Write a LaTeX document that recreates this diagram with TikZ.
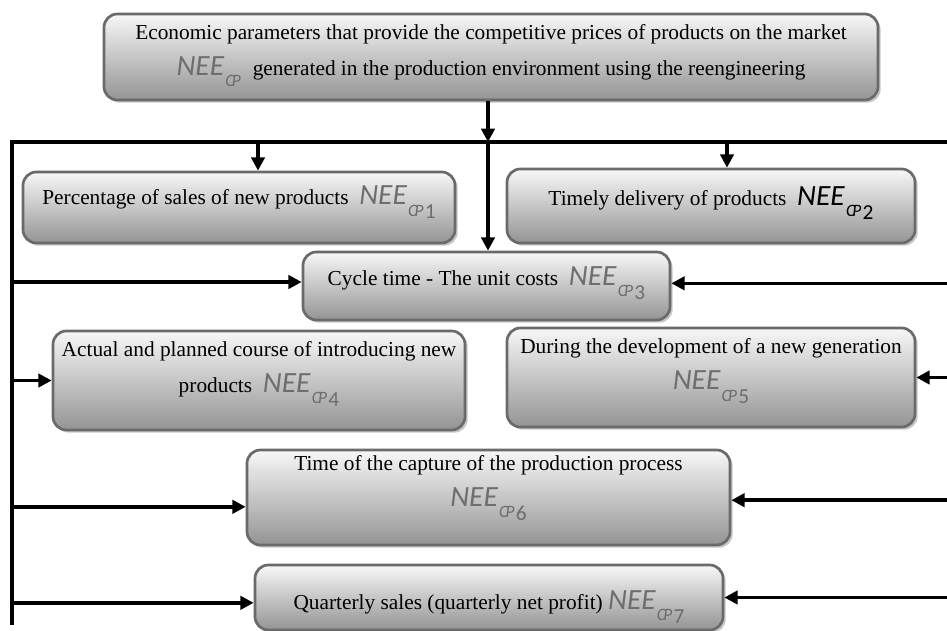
\documentclass[tikz,border=0pt]{standalone}
\usepackage{fontspec}
\setmainfont{Liberation Serif}
\newfontfamily\neefont{Carlito}
\usetikzlibrary{arrows.meta,shadows}
\definecolor{neegray}{HTML}{6E6E6E}
\definecolor{boxline}{HTML}{6A6A6A}
% NEE_CP symbol with index
\newcommand{\nee}[2][neegray]{{\color{#1}\neefont\fontsize{22}{22}\selectfont\itshape NEE\kern1pt\raisebox{-8.5pt}{\fontsize{13}{13}\selectfont C\kern-2pt P}\kern1pt\raisebox{-10.5pt}{\fontsize{16}{16}\selectfont\upshape #2}}}

\begin{document}
\begin{tikzpicture}[x=0.75pt,y=-0.75pt,
    box/.style={draw=boxline, line width=2pt, rounded corners=10pt,
        top color=black!3, bottom color=black!42,
        drop shadow={shadow xshift=2pt, shadow yshift=-2pt, fill=black!22, opacity=1},
        align=center, font=\fontsize{16}{27}\selectfont},
    flow/.style={line width=2.6pt, -{Triangle[length=10pt,width=10pt]}}]
    \def\px{0.75pt}
    \useasboundingbox (0,0) rectangle (947,631);
    % Boxes
    \node[box, minimum width=774*\px, minimum height=86*\px] (econ) at (491,57)
        {Economic parameters that provide the competitive prices of products on the market\\
         \nee{}\ \ generated in the production environment using the reengineering};
    \node[box, minimum width=432*\px, minimum height=71*\px, text depth=18pt] (b1) at (239,207.5)
        {Percentage of sales of new products \ \nee{1}};
    \node[box, minimum width=408*\px, minimum height=74*\px, text depth=15pt] (b2) at (711,206)
        {Timely delivery of products \ \nee[black]{2}};
    \node[box, minimum width=367*\px, minimum height=68*\px, text depth=15pt] (b3) at (486.5,286)
        {Cycle time - The unit costs \ \nee{3}};
    \node[box, minimum width=412*\px, minimum height=99*\px, text depth=21pt] (b4) at (259,380.5)
        {Actual and planned course of introducing new\\ products \ \nee{4}};
    \node[box, minimum width=408*\px, minimum height=99*\px, text depth=20pt] (b5) at (711,377.5)
        {During the development of a new generation\\ \nee{5}};
    \node[box, minimum width=483*\px, minimum height=95*\px, text depth=25pt] (b6) at (488.5,497.5)
        {Time of the capture of the production process\\ \nee{6}};
    \node[box, minimum width=468*\px, minimum height=65*\px, text depth=0pt, text height=18pt] (b7) at (489,597.5)
        {Quarterly sales (quarterly net profit) \nee{7}};
    % Bus and rail
    \coordinate (railtop) at (12,142);
    \coordinate (railbot) at (12,625);
    \coordinate (busend) at (947,142);
    \coordinate (tap1) at (258,142);
    \coordinate (tap2) at (727,142);
    \coordinate (tap3) at (488,142);
    \draw[line width=2.6pt] (railbot) -- (railtop) -- (busend);
    % Arrow ends on the boxes
    \coordinate (in3l) at ([yshift=3pt]b3.west);
    \coordinate (in3r) at ([yshift=2pt]b3.east);
    \coordinate (in6l) at ([yshift=-7pt]b6.west);
    \coordinate (in6r) at ([yshift=-2pt]b6.east);
    \coordinate (in7l) at ([yshift=-4pt]b7.west);
    % Arrows down
    \draw[flow] (tap3 |- econ.south) -- (tap3);
    \draw[flow] (tap1) -- (tap1 |- b1.north);
    \draw[flow] (tap2) -- (tap2 |- b2.north);
    \draw[flow] (tap3) -- (tap3 |- b3.north);
    % Arrows from the left
    \draw[flow] (railtop |- in3l) -- (in3l);
    \draw[flow] (railtop |- b4.west) -- (b4.west);
    \draw[flow] (railtop |- in6l) -- (in6l);
    \draw[flow] (railtop |- in7l) -- (in7l);
    % Arrows from the right
    \draw[flow] (busend |- in3r) -- (in3r);
    \draw[flow] (busend |- b5.east) -- (b5.east);
    \draw[flow] (busend |- in6r) -- (in6r);
    \draw[flow] (busend |- b7.east) -- (b7.east);
\end{tikzpicture}
\end{document}
